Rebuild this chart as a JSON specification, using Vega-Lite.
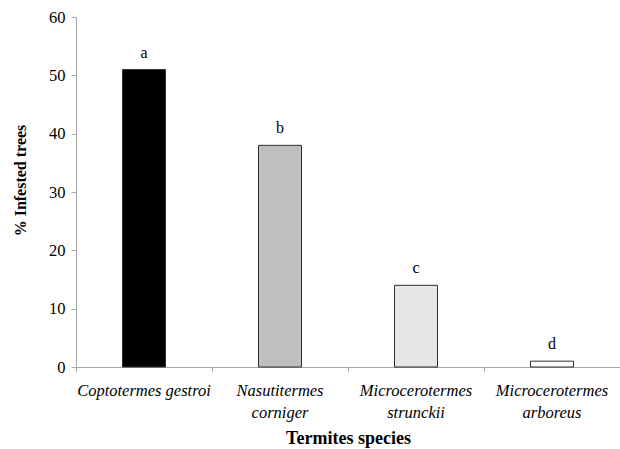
{
  "$schema": "https://vega.github.io/schema/vega-lite/v6.json",
  "width": 544,
  "height": 350,
  "autosize": "none",
  "padding": {"left": 76, "top": 17, "right": 0, "bottom": 82},
  "background": "white",
  "config": {
    "view": {"stroke": null},
    "font": "Liberation Serif, Times New Roman, serif",
    "axis": {"labelFont": "Liberation Serif, Times New Roman, serif", "titleFont": "Liberation Serif, Times New Roman, serif"},
    "text": {"font": "Liberation Serif, Times New Roman, serif"}
  },
  "data": {"values": [
    {"species": "Coptotermes gestroi", "pct": 51, "group": "a"},
    {"species": "Nasutitermes corniger", "pct": 38, "group": "b"},
    {"species": "Microcerotermes strunckii", "pct": 14, "group": "c"},
    {"species": "Microcerotermes arboreus", "pct": 1, "group": "d"}
  ]},
  "encoding": {
    "x": {
      "field": "species", "type": "nominal", "sort": null,
      "scale": {"paddingInner": 0, "paddingOuter": 0},
      "axis": {
        "title": "Termites species",
        "titleFontSize": 18, "titleFontWeight": "bold", "titleColor": "black",
        "titleX": 272, "titleY": 71, "titleBaseline": "middle", "titleAlign": "center", "titleAnchor": null,
        "labelAngle": 0, "labelFontStyle": "italic", "labelFontSize": 16.5,
        "labelColor": "black", "labelPadding": 10, "labelLineHeight": 22, "labelBaseline": "top",
        "labelExpr": "datum.label == 'Coptotermes gestroi' ? datum.label : split(datum.label, ' ')",
        "domainColor": "#a6a6a6", "tickColor": "#a6a6a6", "tickSize": 5, "bandPosition": 0,
        "grid": false
      }
    },
    "y": {
      "field": "pct", "type": "quantitative",
      "scale": {"domain": [0, 60], "nice": false},
      "axis": {
        "title": "% Infested trees", "values": [0, 10, 20, 30, 40, 50, 60],
        "titleFontSize": 16, "titleFontWeight": "bold", "titleColor": "black",
        "titleX": -56, "titleY": 163, "titleAngle": -90, "titleBaseline": "middle", "titleAlign": "center", "titleAnchor": null,
        "labelFontSize": 16.5, "labelColor": "black", "labelPadding": 6,
        "domainColor": "#a6a6a6", "tickColor": "#a6a6a6", "tickSize": 5, "grid": false
      }
    }
  },
  "layer": [
    {
      "mark": {"type": "bar", "size": 43, "strokeWidth": 1, "stroke": "#303030"},
      "encoding": {
        "fill": {
          "field": "species", "type": "nominal", "legend": null,
          "scale": {
            "domain": ["Coptotermes gestroi", "Nasutitermes corniger", "Microcerotermes strunckii", "Microcerotermes arboreus"],
            "range": ["#000000", "#bfbfbf", "#e6e6e6", "#ffffff"]
          }
        }
      }
    },
    {
      "mark": {"type": "text", "dy": -12, "baseline": "alphabetic", "fontSize": 16, "color": "black"},
      "encoding": {"text": {"field": "group"}}
    }
  ]
}
